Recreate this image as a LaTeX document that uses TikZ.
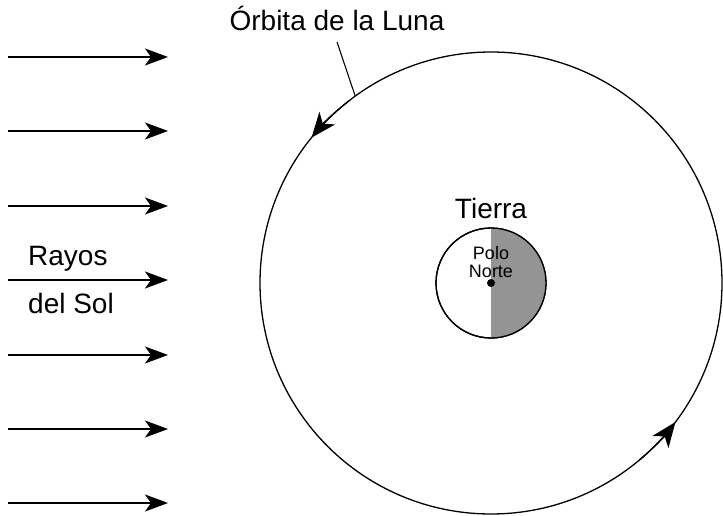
\documentclass[tikz,border=0pt]{standalone}
\usepackage{fontspec}
\setmainfont{Liberation Sans}
\usetikzlibrary{arrows.meta}
\tikzset{
  rayo/.style = {line width=1.3pt, -{Stealth[length=23pt,width=17pt,inset=6pt]}},
  orbita/.style = {circle, draw, line width=1.3pt, inner sep=0pt, outer sep=0pt},
  flecha/.style = {line width=1.3pt, -{Stealth[length=25pt,width=20pt,inset=7pt]}},
  rotulo/.style = {font=\fontsize{28}{30}\selectfont, inner sep=0pt}
}
\begin{document}
\begin{tikzpicture}[x=1pt,y=1pt]
  \useasboundingbox (0,0) rectangle (723,515);
  % orbita de la Luna
  \node[orbita, minimum size=462pt] (luna) at (491,232) {};
  \draw[flecha] (luna.128) arc (128:141:231pt);
  \draw[flecha] (luna.-50) arc (-50:-37:231pt);
  \node[rotulo, anchor=base] (nombre) at (337,484) {Órbita de la Luna};
  \coordinate (guia) at (337,473);
  \draw[line width=1.1pt] (guia) -- (luna.126.6);
  % Tierra
  \node[orbita, minimum size=110pt] (tierra) at (491,232) {};
  \fill[black!42] (tierra.north) arc (90:-90:55pt) -- cycle;
  \draw[line width=1.3pt] (tierra) circle (55pt);
  \fill (tierra) circle (4pt);
  \node[rotulo, anchor=base] (nombret) at (491,297) {Tierra};
  \node[font=\fontsize{18}{18}\selectfont, align=center, inner sep=0pt] (polo) at (491,253) {Polo\\Norte};
  % rayos del Sol
  \foreach \y [count=\i] in {458,384,309,235,160,86,12} {
    \coordinate (r\i a) at (8,\y);
    \coordinate (r\i b) at (168,\y);
    \draw[rayo] (r\i a) -- (r\i b);
  }
  \node[rotulo, anchor=base west] (rayos) at (28,250) {Rayos};
  \node[rotulo, anchor=base west] (sol) at (28,202) {del Sol};
\end{tikzpicture}
\end{document}
